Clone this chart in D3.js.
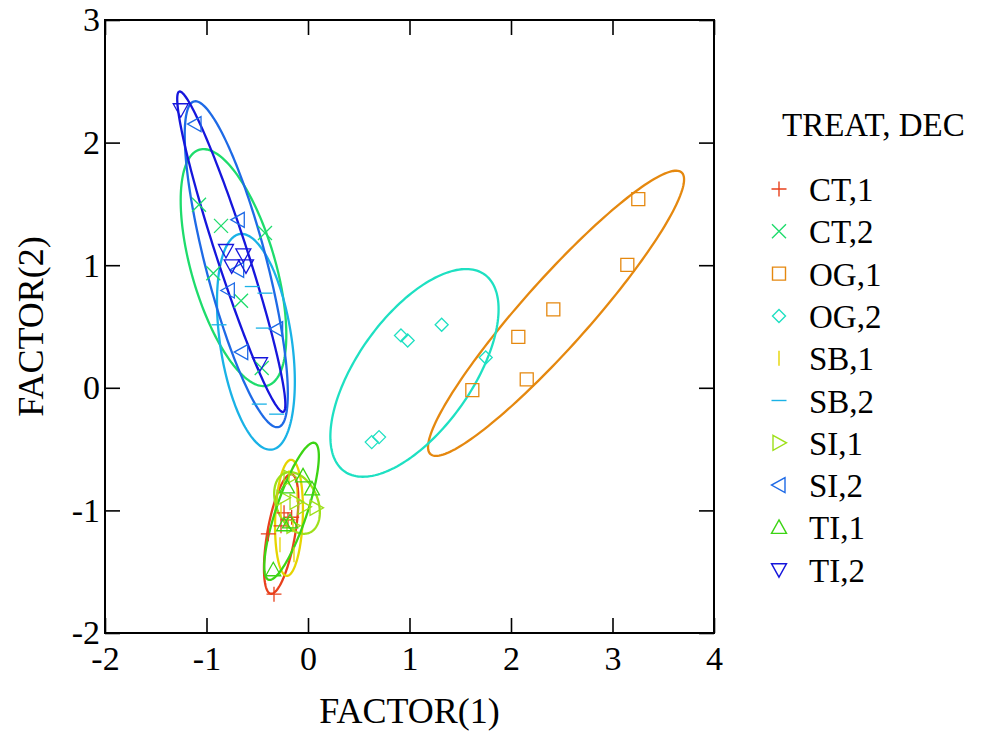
<!DOCTYPE html>
<html>
<head>
<meta charset="utf-8">
<script src="https://cdn.jsdelivr.net/npm/d3@7"></script>
<style>
  html, body { margin: 0; padding: 0; background: #fff; }
  svg { display: block; }
  text { font-family: "Liberation Serif", "Times New Roman", serif; fill: #000; }
</style>
</head>
<body>
<svg id="chart" width="990" height="733"></svg>
<script>
// ---------------- DATA ----------------
const groups = ["CT,1","CT,2","OG,1","OG,2","SB,1","SB,2","SI,1","SI,2","TI,1","TI,2"];
const groupColors = ["#e8401c","#1edc6c","#e5880f","#1ee0c2","#e6d400","#1ab2e6","#9ee01a","#1e6ae6","#3cd414","#1616dc"];
const groupSymbols = ["plus","cross","square","diamond","vbar","hbar","triRight","triLeft","triUp","triDown"];

// FACTOR(1), FACTOR(2) scores per group
const CT1 = [[-0.335,-1.683],[-0.391,-1.191],[-0.236,-1.020],[-0.161,-1.056],[-0.266,-1.126],[-0.197,-1.077]];
const CT2 = [[-1.074,1.493],[-0.857,1.321],[-0.424,1.262],[-0.933,0.935],[-0.660,0.710],[-0.456,0.161]];
const OG1 = [[1.619,-0.019],[2.072,0.416],[2.155,0.068],[2.417,0.639],[3.146,1.003],[3.254,1.539]];
const OG2 = [[1.317,0.514],[0.916,0.427],[0.982,0.386],[1.751,0.247],[0.700,-0.402],[0.628,-0.443]];
const SB1 = [[-0.187,-0.734],[-0.108,-0.873],[-0.266,-0.995],[-0.148,-1.117],[-0.276,-1.281],[-0.138,-1.362]];
const SB2 = [[-0.549,0.826],[-0.424,0.772],[-0.877,0.514],[-0.440,0.487],[-0.480,-0.133],[-0.309,-0.215]];
const SI1 = [[-0.246,-0.897],[-0.118,-0.930],[-0.039,-0.971],[0.079,-0.979],[-0.177,-0.734],[-0.148,-1.126]];
const SI2 = [[-1.113,2.151],[-0.687,1.370],[-0.693,0.962],[-0.785,0.794],[-0.309,0.479],[-0.653,0.291]];
const TI1 = [[-0.342,-1.484],[-0.236,-1.117],[-0.177,-1.093],[-0.207,-0.808],[-0.049,-0.718],[0.039,-0.824]];
const TI2 = [[-1.254,2.268],[-0.808,1.120],[-0.637,1.085],[-0.752,0.995],[-0.611,0.995],[-0.473,0.196]];
const groupData = [CT1, CT2, OG1, OG2, SB1, SB2, SI1, SI2, TI1, TI2];

const xTicks = [-2,-1,0,1,2,3,4];
const yTicks = [-2,-1,0,1,2,3];
const xTitle = "FACTOR(1)";
const yTitle = "FACTOR(2)";
const legendTitle = "TREAT, DEC";
const ellipseConfidence = 0.6827;

// ---------------- LAYOUT ----------------
const L = 105, R = 714, T = 20, B = 633;
const svg = d3.select("#chart");
const x = d3.scaleLinear().domain([-2, 4]).range([L, R]);
const y = d3.scaleLinear().domain([-2, 3]).range([B, T]);

// confidence ellipse from group mean and covariance
function ellipsePoints(pts, p) {
  const n = pts.length;
  const mx = d3.mean(pts, d => d[0]), my = d3.mean(pts, d => d[1]);
  let sxx = 0, syy = 0, sxy = 0;
  pts.forEach(d => { const dx = d[0]-mx, dy = d[1]-my; sxx += dx*dx; syy += dy*dy; sxy += dx*dy; });
  sxx /= (n-1); syy /= (n-1); sxy /= (n-1);
  const m = n - 2;
  const f = (m/2) * (Math.pow(1-p, -2/m) - 1);      // F(2, n-2) quantile
  const k = Math.sqrt(2*(n-1)/(n-2) * f);
  const a = Math.sqrt(sxx), b = sxy / a, c = Math.sqrt(Math.max(syy - b*b, 0));
  const out = [];
  for (let i = 0; i <= 180; i++) {
    const t = i / 180 * 2 * Math.PI;
    const u = Math.cos(t), v = Math.sin(t);
    out.push([mx + k*a*u, my + k*(b*u + c*v)]);
  }
  return out;
}

svg.append("clipPath").attr("id", "plotclip").append("rect")
  .attr("x", L).attr("y", T).attr("width", R-L).attr("height", B-T);

const line = d3.line().x(d => x(d[0])).y(d => y(d[1]));
const gE = svg.append("g").attr("clip-path", "url(#plotclip)");
groupData.forEach((pts, i) => {
  gE.append("path")
    .attr("d", line(ellipsePoints(pts, ellipseConfidence)) + "Z")
    .attr("fill", "none")
    .attr("stroke", groupColors[i])
    .attr("stroke-width", 2.3);
});

// symbols
function symbolPath(type, s) {
  switch (type) {
    case "plus": return `M${-s},0H${s}M0,${-s}V${s}`;
    case "cross": return `M${-s},${-s}L${s},${s}M${-s},${s}L${s},${-s}`;
    case "square": return `M${-s},${-s}H${s}V${s}H${-s}Z`;
    case "diamond": return `M0,${-s}L${s},0L0,${s}L${-s},0Z`;
    case "vbar": return `M0,${-s}V${s}`;
    case "hbar": return `M${-s},0H${s}`;
    case "triRight": return `M${-s*0.8},${-s}L${s},0L${-s*0.8},${s}Z`;
    case "triLeft": return `M${s*0.8},${-s}L${-s},0L${s*0.8},${s}Z`;
    case "triUp": return `M0,${-s}L${s},${s*0.8}L${-s},${s*0.8}Z`;
    case "triDown": return `M0,${s}L${s},${-s*0.8}L${-s},${-s*0.8}Z`;
  }
}
const symSize = { plus:7.5, cross:7, square:6.5, diamond:6.5, vbar:7.5, hbar:7.5, triRight:7.5, triLeft:7.5, triUp:7.5, triDown:7.5 };

const gP = svg.append("g");
groupData.forEach((pts, i) => {
  gP.selectAll(null).data(pts).enter().append("path")
    .attr("transform", d => `translate(${x(d[0])},${y(d[1])})`)
    .attr("d", symbolPath(groupSymbols[i], symSize[groupSymbols[i]]))
    .attr("fill", "none")
    .attr("stroke", groupColors[i])
    .attr("stroke-width", 1.3);
});

// frame + axes (inward ticks)
const tickLen = 15;
svg.append("rect").attr("x", L).attr("y", T).attr("width", R-L).attr("height", B-T)
  .attr("fill", "none").attr("stroke", "#000").attr("stroke-width", 2);

const fmt = d => d < 0 ? "-" + Math.abs(d) : String(d);
const xAxis = svg.append("g").attr("transform", `translate(0,${B})`)
  .call(d3.axisBottom(x).tickValues(xTicks).tickSizeInner(-tickLen).tickSizeOuter(0).tickPadding(13).tickFormat(fmt));
const yAxis = svg.append("g").attr("transform", `translate(${L},0)`)
  .call(d3.axisLeft(y).tickValues(yTicks).tickSizeInner(-tickLen).tickSizeOuter(0).tickPadding(5).tickFormat(fmt));
const xAxisTop = svg.append("g").attr("transform", `translate(0,${T})`)
  .call(d3.axisTop(x).tickValues(xTicks).tickSizeInner(-tickLen).tickSizeOuter(0).tickFormat(""));
const yAxisRight = svg.append("g").attr("transform", `translate(${R},0)`)
  .call(d3.axisRight(y).tickValues(yTicks).tickSizeInner(-tickLen).tickSizeOuter(0).tickFormat(""));
[xAxis, yAxis, xAxisTop, yAxisRight].forEach(g => {
  g.select(".domain").remove();
  g.selectAll(".tick line").attr("stroke", "#000").attr("stroke-width", 1.6);
  g.selectAll(".tick text").attr("font-family", "Liberation Serif").attr("font-size", 34).attr("fill", "#000");
});

// axis titles
svg.append("text").attr("x", (L+R)/2).attr("y", 723).attr("text-anchor", "middle")
  .attr("font-size", 36).text(xTitle);
svg.append("text").attr("transform", `translate(43,${(T+B)/2}) rotate(-90)`).attr("text-anchor", "middle")
  .attr("font-size", 36).text(yTitle);

// legend
svg.append("text").attr("x", 782).attr("y", 136).attr("font-size", 33).text(legendTitle);
const lg = svg.append("g");
groups.forEach((g, i) => {
  const cy = 189 + i * 42.3;
  lg.append("path").attr("transform", `translate(779,${cy})`)
    .attr("d", symbolPath(groupSymbols[i], symSize[groupSymbols[i]]))
    .attr("fill", "none").attr("stroke", groupColors[i]).attr("stroke-width", 1.4);
  lg.append("text").attr("x", 809).attr("y", cy + 12).attr("font-size", 33).text(g);
});
</script>
</body>
</html>
